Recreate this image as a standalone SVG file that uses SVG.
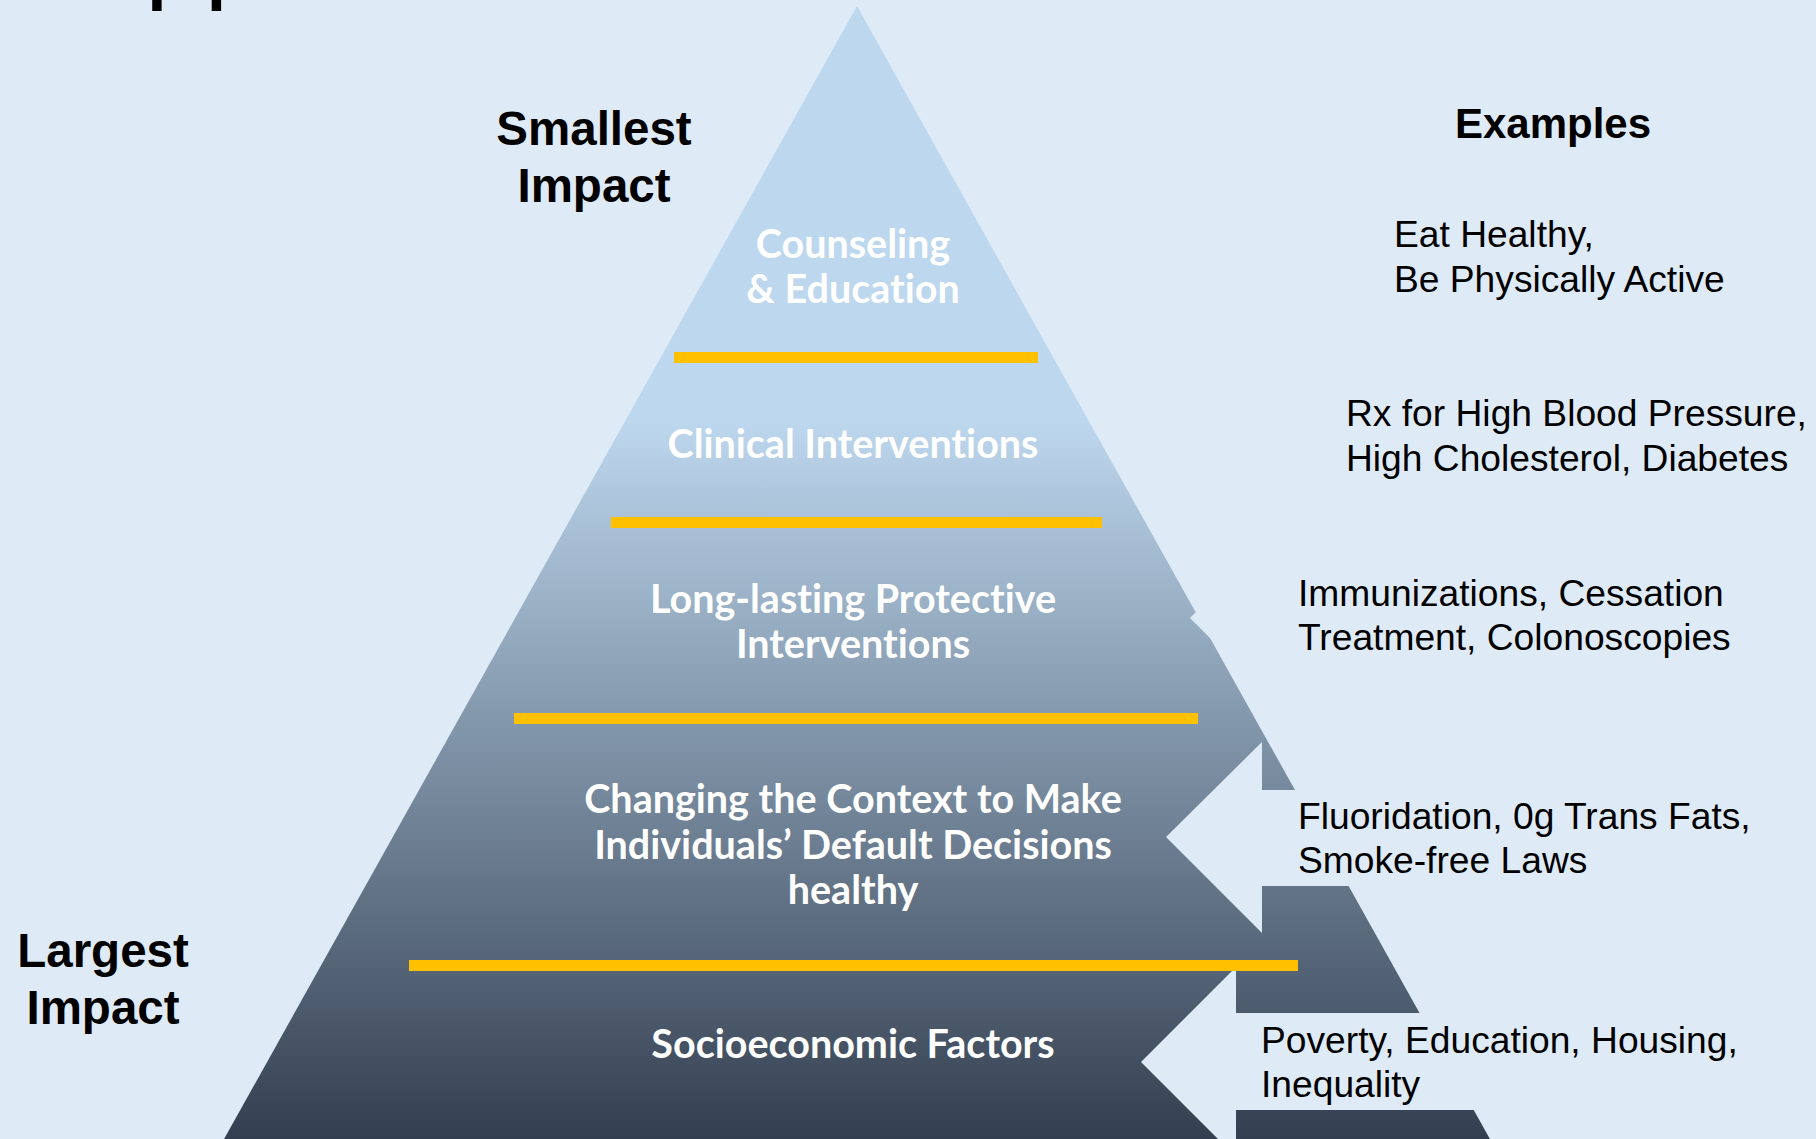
<svg xmlns="http://www.w3.org/2000/svg" width="1816" height="1139" viewBox="0 0 1816 1139">
  <style>
    .bg { fill: #DEEBF7; }
    .sep { fill: #FFC000; }
    .tier { font-family: Lato, "Open Sans", "Liberation Sans", sans-serif; font-weight: 700; font-size: 39.5px; fill: #FFFFFF; text-anchor: middle; font-variant-ligatures: none; }
    .head { font-family: "Liberation Sans", Arial, sans-serif; font-weight: 700; font-size: 47.5px; fill: #000000; text-anchor: middle; }
    .ex { font-family: "Liberation Sans", Arial, sans-serif; font-size: 37.2px; fill: #000000; }
    .arrow { fill: #DEEBF7; }
  </style>
  <defs>
    <linearGradient id="pyrGrad" gradientUnits="userSpaceOnUse" x1="0" y1="6" x2="0" y2="1139">
      <stop offset="0" stop-color="#BDD7EE"/>
      <stop offset="0.366" stop-color="#BDD7EE"/>
      <stop offset="1" stop-color="#333F50"/>
    </linearGradient>
  </defs>

  <rect class="bg" x="0" y="0" width="1816" height="1139"/>

  <text x="145" y="-11" style="font-family:'Liberation Sans',Arial,sans-serif;font-size:107px;fill:#000">pp</text>

  <g id="pyramid">
    <polygon points="857,6 1524,1200 190,1200" fill="url(#pyrGrad)"/>
  </g>

  <g id="connectors">
    <polygon class="arrow" points="1190,618 1285,523 1285,570 1816,570 1816,666 1285,666 1285,713"/>
    <polygon class="arrow" points="1166,837 1262,742 1262,790 1816,790 1816,886 1262,886 1262,933"/>
    <polygon class="arrow" points="1141,1062 1236,967 1236,1013 1816,1013 1816,1110 1236,1110 1236,1157"/>
  </g>

  <g id="separators">
    <rect class="sep" x="674" y="352" width="364" height="11"/>
    <rect class="sep" x="611" y="517" width="491" height="11"/>
    <rect class="sep" x="514" y="713" width="684" height="11"/>
    <rect class="sep" x="409" y="960" width="889" height="11"/>
  </g>

  <g id="tier-counseling">
    <text class="tier" x="853" y="258">Counseling</text>
    <text class="tier" x="853" y="303">&amp; Education</text>
  </g>
  <g id="tier-clinical">
    <text class="tier" x="853" y="458">Clinical Interventions</text>
  </g>
  <g id="tier-protective">
    <text class="tier" x="853" y="613">Long-lasting Protective</text>
    <text class="tier" x="853" y="658">Interventions</text>
  </g>
  <g id="tier-context">
    <text class="tier" x="853" y="813">Changing the Context to Make</text>
    <text class="tier" x="853" y="859">Individuals’ Default Decisions</text>
    <text class="tier" x="853" y="904">healthy</text>
  </g>
  <g id="tier-socioeconomic">
    <text class="tier" x="853" y="1058">Socioeconomic Factors</text>
  </g>

  <g id="label-smallest">
    <text class="head" x="594" y="145">Smallest</text>
    <text class="head" x="594" y="202">Impact</text>
  </g>
  <g id="label-largest">
    <text class="head" x="103" y="967">Largest</text>
    <text class="head" x="103" y="1024">Impact</text>
  </g>
  <g id="label-examples">
    <text class="head" x="1553" y="138" style="font-size:42px">Examples</text>
  </g>

  <g id="ex-counseling">
    <text class="ex" x="1394" y="247">Eat Healthy,</text>
    <text class="ex" x="1394" y="292">Be Physically Active</text>
  </g>
  <g id="ex-clinical">
    <text class="ex" x="1346" y="426">Rx for High Blood Pressure,</text>
    <text class="ex" x="1346" y="471">High Cholesterol, Diabetes</text>
  </g>
  <g id="ex-protective">
    <text class="ex" x="1298" y="606">Immunizations, Cessation</text>
    <text class="ex" x="1298" y="650">Treatment, Colonoscopies</text>
  </g>
  <g id="ex-context">
    <text class="ex" x="1298" y="829">Fluoridation, 0g Trans Fats,</text>
    <text class="ex" x="1298" y="873">Smoke-free Laws</text>
  </g>
  <g id="ex-socioeconomic">
    <text class="ex" x="1261" y="1053">Poverty, Education, Housing,</text>
    <text class="ex" x="1261" y="1097">Inequality</text>
  </g>
</svg>
